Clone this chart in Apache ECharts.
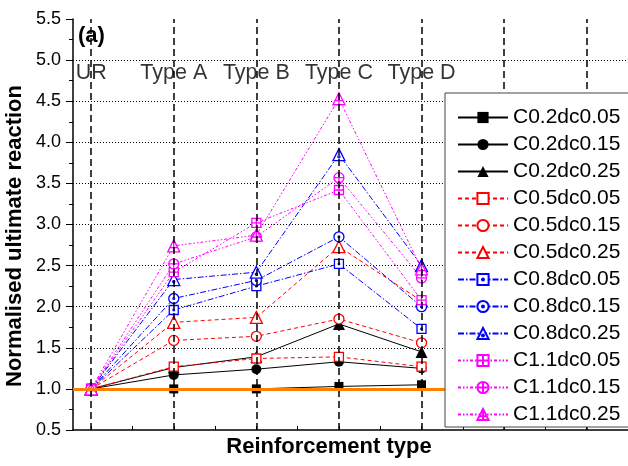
<!DOCTYPE html>
<html>
<head>
<meta charset="utf-8">
<script src="https://cdn.jsdelivr.net/npm/echarts@6/dist/echarts.min.js"></script>
<style>
html,body{margin:0;padding:0;background:#fff;}
#chart{width:628px;height:466px;}
</style>
</head>
<body>
<div id="chart"></div>
<script>
// ---------- data ----------
var categories = ['UR', 'Type A', 'Type B', 'Type C', 'Type D'];
var seriesNames = ['C0.2dc0.05','C0.2dc0.15','C0.2dc0.25','C0.5dc0.05','C0.5dc0.15','C0.5dc0.25',
                   'C0.8dc0.05','C0.8dc0.15','C0.8dc0.25','C1.1dc0.05','C1.1dc0.15','C1.1dc0.25'];
var C02dc005 = [1.00, 1.00, 1.00, 1.03, 1.05];
var C02dc015 = [1.00, 1.17, 1.24, 1.33, 1.25];
var C02dc025 = [1.00, 1.26, 1.39, 1.79, 1.45];
var C05dc005 = [1.00, 1.27, 1.37, 1.39, 1.27];
var C05dc015 = [1.00, 1.59, 1.64, 1.85, 1.56];
var C05dc025 = [1.00, 1.81, 1.87, 2.73, 2.07];
var C08dc005 = [1.00, 1.96, 2.25, 2.52, 1.73];
var C08dc015 = [1.00, 2.10, 2.32, 2.85, 2.00];
var C08dc025 = [1.00, 2.33, 2.42, 3.85, 2.50];
var C11dc005 = [1.00, 2.42, 3.02, 3.42, 2.08];
var C11dc015 = [1.00, 2.52, 2.85, 3.57, 2.35];
var C11dc025 = [1.00, 2.74, 2.87, 4.53, 2.46];
var allValues = [C02dc005, C02dc015, C02dc025, C05dc005, C05dc015, C05dc025,
                 C08dc005, C08dc015, C08dc025, C11dc005, C11dc015, C11dc025];
var yTicks = [0.5, 1.0, 1.5, 2.0, 2.5, 3.0, 3.5, 4.0, 4.5, 5.0, 5.5];
var verticalLinesAt = [1, 2, 3, 4, 5, 6, 7];
var referenceValue = 1.0;

// ---------- styles ----------
var FONT = '"Liberation Sans", Arial, sans-serif';
var SQ = 'M0 0L10 0L10 10L0 10Z';
var CI = 'M0 5A5 5 0 1 1 10 5A5 5 0 1 1 0 5Z';
var TR = 'M5 0L10 10L0 10Z';
function dot(cx, cy) { return 'M' + (cx - 0.9) + ' ' + cy + 'A0.9 0.9 0 1 1 ' + (cx + 0.9) + ' ' + cy + 'A0.9 0.9 0 1 1 ' + (cx - 0.9) + ' ' + cy + 'Z'; }
var sym = {
  black: ['rect', 'circle', 'triangle'],
  red: ['path://' + SQ, 'path://' + CI, 'path://' + TR],
  blue: ['path://' + SQ + dot(5, 5), 'path://' + CI + dot(5, 5), 'path://' + TR + dot(5, 6.8)],
  mag: ['path://' + SQ + 'M5 0L5 10M0 5L10 5', 'path://' + CI + 'M5 0L5 10M0 5L10 5', 'path://' + TR + 'M5 0L5 10M1.5 6.5L8.5 6.5']
};
var sizes = [9, 10, 12];
var groups = [
  {key: 'black', color: '#000000', type: 'solid', filled: true},
  {key: 'red', color: '#FF0000', type: [4, 3], filled: false},
  {key: 'blue', color: '#0000FF', type: [6, 2, 1.5, 2], filled: false},
  {key: 'mag', color: '#FF00FF', type: [3, 2, 1.5, 2, 1.5, 2], filled: false}
];

var series = [];
// vertical dashed reference lines
series.push({
  type: 'line', data: [], silent: true, z: 1,
  markLine: {
    silent: true, symbol: ['none', 'none'], label: {show: false},
    lineStyle: {color: '#000', type: [7, 4], width: 1.5},
    emphasis: {disabled: true},
    data: verticalLinesAt.map(function (v) { return {xAxis: v}; })
  }
});

for (var i = 0; i < allValues.length; i++) {
  var g = groups[Math.floor(i / 3)];
  var k = i % 3;
  series.push({
    name: seriesNames[i],
    type: 'line',
    z: 3,
    data: allValues[i].map(function (v, j) { return [j + 1, v]; }),
    symbol: sym[g.key][k],
    symbolSize: sizes[k],
    showAllSymbol: true,
    lineStyle: {color: g.color, width: 1, type: g.type},
    itemStyle: g.filled ? {color: g.color, borderColor: g.color, borderWidth: 0}
                        : {color: '#ffffff', borderColor: g.color, borderWidth: 1.3},
    emphasis: {disabled: true},
    animation: false
  });
  if (i === 2) {
    // orange reference line at 1.0 (drawn over the C0.2 series)
    series.push({
      type: 'line', data: [], silent: true, z: 3,
      markLine: {
        silent: true, symbol: ['none', 'none'], label: {show: false},
        lineStyle: {color: '#FF8000', type: 'solid', width: 3},
        emphasis: {disabled: true},
        data: [{yAxis: referenceValue}]
      }
    });
  }
}

// category labels inside the plot
series.push({
  type: 'scatter', silent: true, z: 2,
  data: categories.map(function (c, j) { return [j + 1, 4.84]; }),
  symbolSize: 1,
  itemStyle: {color: 'transparent'},
  label: {
    show: true, position: 'inside', color: '#000', fontSize: 21.5, fontFamily: FONT,
    formatter: function (p) { return categories[p.dataIndex]; }
  }
});

var halfTicks = [];
for (var t = 1; t <= 7; t += 0.5) halfTicks.push(t);

var chart = echarts.init(document.getElementById('chart'), null, {renderer: 'canvas'});
chart.setOption({
  animation: false,
  backgroundColor: '#fff',
  textStyle: {fontFamily: FONT},
  grid: {left: 73, right: 0, top: 19, bottom: 36, containLabel: false, outerBoundsMode: 'none'},
  xAxis: {
    type: 'value', min: 0.78, max: 7.5,
    axisLine: {show: true, onZero: false, lineStyle: {color: '#000', width: 1.5}},
    axisTick: {show: true, inside: true, length: 4, lineStyle: {color: '#000', width: 1}, customValues: halfTicks},
    axisLabel: {show: false},
    splitLine: {show: false}
  },
  yAxis: {
    type: 'value', min: 0.5, max: 5.5, interval: 0.5,
    axisLine: {show: true, lineStyle: {color: '#000', width: 1.5}},
    axisTick: {show: true, inside: false, length: 7, lineStyle: {color: '#000', width: 1}},
    minorTick: {show: true, splitNumber: 2, length: 4, lineStyle: {color: '#000', width: 1}},
    axisLabel: {color: '#000', fontSize: 18, fontFamily: FONT, margin: 12,
      formatter: function (v) { return v.toFixed(1); }},
    splitLine: {show: true, showMinLine: false, showMaxLine: false,
      lineStyle: {color: '#000', type: [1, 2], width: 1}}
  },
  legend: {
    data: seriesNames,
    orient: 'vertical',
    left: 445, top: 93,
    z: 20,
    padding: [14, 10, 2, 12],
    itemWidth: 50, itemHeight: 14, itemGap: 6,
    backgroundColor: '#fff',
    borderColor: '#444', borderWidth: 1,
    selectedMode: false,
    textStyle: {color: '#000', fontSize: 21, lineHeight: 21, fontFamily: FONT}
  },
  graphic: [
    {type: 'text', left: 78, top: 25, z: 100,
      style: {text: '(a)', font: 'bold 22px ' + FONT, fill: '#000'}},
    {type: 'text', x: 329, y: 447, z: 100,
      style: {text: 'Reinforcement type', font: 'bold 22px ' + FONT, fill: '#000', align: 'center', verticalAlign: 'middle'}},
    {type: 'text', x: 15, y: 236, rotation: Math.PI / 2, z: 100,
      style: {text: 'Normalised ultimate reaction', font: 'bold 22px ' + FONT, fill: '#000', align: 'center', verticalAlign: 'middle'}}
  ],
  series: series
});
</script>
</body>
</html>
